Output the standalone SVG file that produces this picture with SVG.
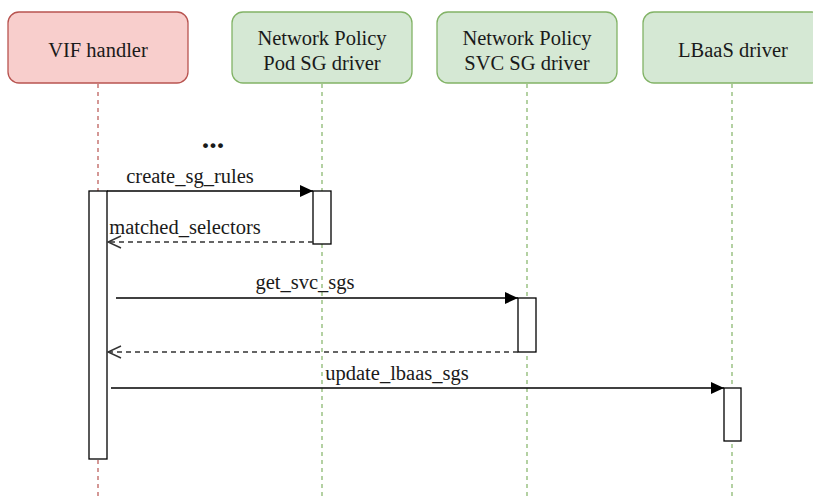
<svg xmlns="http://www.w3.org/2000/svg" width="813" height="502" viewBox="0 0 813 502">
<style>
  text { font-family: "Liberation Serif", "Times New Roman", serif; font-size: 20.5px; fill: #1a1a1a; text-anchor: middle; }
  .red { fill: #f8cecc; stroke: #b85450; stroke-width: 1.3; }
  .green { fill: #d5e8d4; stroke: #82b366; stroke-width: 1.3; }
  .lr { stroke: #b85450; stroke-width: 1.2; stroke-dasharray: 4 4; fill: none; }
  .lg { stroke: #82b366; stroke-width: 1.2; stroke-dasharray: 4 4; fill: none; }
  .act { fill: #ffffff; stroke: #000; stroke-width: 1.3; }
  .msg { stroke: #000; stroke-width: 1.4; fill: none; }
  .ret { stroke: #333; stroke-width: 1.4; stroke-dasharray: 5 4; fill: none; }
</style>
<defs>
  <marker id="block" markerWidth="14" markerHeight="12" refX="13" refY="6" orient="auto" markerUnits="userSpaceOnUse">
    <path d="M0,0 L13,6 L0,12 Z" fill="#000"/>
  </marker>
  <marker id="open" markerWidth="16" markerHeight="14" refX="14" refY="7" orient="auto" markerUnits="userSpaceOnUse">
    <path d="M1,1 L14,7 L1,13" fill="none" stroke="#333" stroke-width="1.4"/>
  </marker>
</defs>
<rect width="813" height="502" fill="#ffffff"/>

<g id="lifelines">
  <line class="lr" x1="98" y1="84" x2="98" y2="500"/>
  <line class="lg" x1="322" y1="84" x2="322" y2="500"/>
  <line class="lg" x1="527" y1="84" x2="527" y2="500"/>
  <line class="lg" x1="732" y1="84" x2="732" y2="500"/>
</g>

<g id="vif-handler">
  <rect class="red" x="8" y="12" width="180" height="71" rx="11"/>
  <text x="98" y="57">VIF handler</text>
  <rect class="act" x="89" y="191" width="18" height="268"/>
</g>
<g id="pod-sg-driver">
  <rect class="green" x="232" y="12" width="180" height="71" rx="11"/>
  <text x="322" y="45">Network Policy</text>
  <text x="322" y="70">Pod SG driver</text>
  <rect class="act" x="313" y="191" width="18" height="53"/>
</g>
<g id="svc-sg-driver">
  <rect class="green" x="437" y="12" width="180" height="71" rx="11"/>
  <text x="527" y="45">Network Policy</text>
  <text x="527" y="70">SVC SG driver</text>
  <rect class="act" x="518" y="298" width="18" height="54"/>
</g>
<g id="lbaas-driver">
  <rect class="green" x="643" y="12" width="180" height="71" rx="11"/>
  <text x="733" y="57">LBaaS driver</text>
  <rect class="act" x="724" y="388" width="17" height="53"/>
</g>

<g id="connectors">
  <text x="213" y="148" style="font-weight:bold;font-size:30px">...</text>
  <line class="msg" x1="107" y1="191" x2="313" y2="191" marker-end="url(#block)"/>
  <text x="190" y="183">create_sg_rules</text>
  <line class="ret" x1="313" y1="242" x2="108" y2="242" marker-end="url(#open)"/>
  <text x="185" y="234">matched_selectors</text>
  <line class="msg" x1="116" y1="298" x2="518" y2="298" marker-end="url(#block)"/>
  <text x="305" y="289">get_svc_sgs</text>
  <line class="ret" x1="518" y1="352" x2="108" y2="352" marker-end="url(#open)"/>
  <line class="msg" x1="111" y1="388" x2="724" y2="388" marker-end="url(#block)"/>
  <text x="397" y="380">update_lbaas_sgs</text>
</g>
</svg>
